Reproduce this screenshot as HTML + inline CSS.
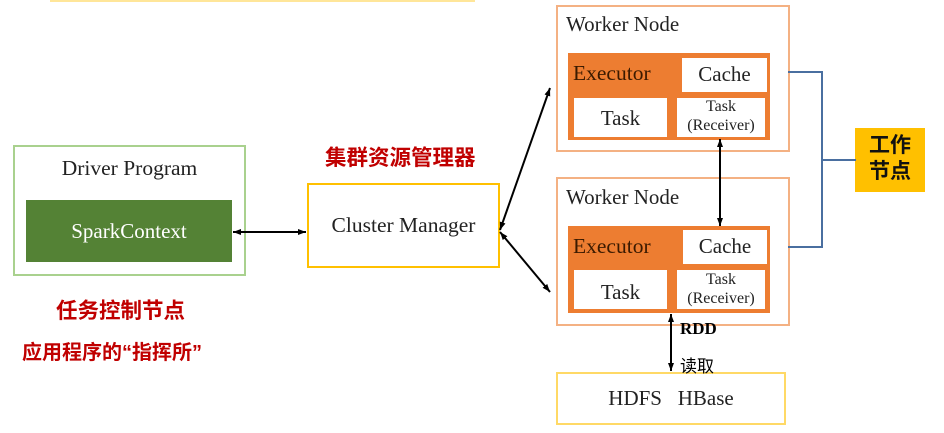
<!DOCTYPE html>
<html><head><meta charset="utf-8"><style>
body{margin:0;width:944px;height:433px;background:#fff;position:relative;overflow:hidden;font-family:"Liberation Serif","Noto Serif CJK SC",serif;}
.a{position:absolute;box-sizing:border-box;}
.t{position:absolute;white-space:nowrap;color:#222;}
.cn{font-family:"Liberation Sans","Noto Sans CJK SC",sans-serif;font-weight:bold;color:#c00000;}
</style></head><body>
<div class="a" style="left:50px;top:-2px;width:425px;height:4px;border-bottom:2px solid #ffe699"></div>

<div class="a" style="left:13px;top:145px;width:233px;height:131px;border:2px solid #a9d18e"></div>
<div class="t" style="left:13px;width:233px;text-align:center;top:156px;font-size:21.5px">Driver Program</div>
<div class="a" style="left:26px;top:200px;width:206px;height:62px;background:#548235"></div>
<div class="t" style="left:26px;width:206px;text-align:center;top:219px;font-size:21px;color:#fff">SparkContext</div>

<div class="a" style="left:307px;top:183px;width:193px;height:85px;border:2px solid #ffc000"></div>
<div class="t" style="left:307px;width:193px;text-align:center;top:213px;font-size:21.5px">Cluster Manager</div>
<div class="t cn" style="left:325px;top:141px;font-size:21.5px">集群资源管理器</div>
<div class="t cn" style="left:56px;top:294px;font-size:21.5px">任务控制节点</div>
<div class="t cn" style="left:22px;top:336px;font-size:20px">应用程序的“指挥所”</div>

<div class="a" style="left:556px;top:5px;width:234px;height:147px;border:2px solid #f4b183"></div>
<div class="t" style="left:566px;top:12px;font-size:21px">Worker Node</div>
<div class="a" style="left:568px;top:53px;width:202px;height:87px;background:#ed7d31"></div>
<div class="t" style="left:573px;top:61px;font-size:21.5px;color:#3a1a00">Executor</div>
<div class="a" style="left:682px;top:58px;width:85px;height:34px;background:#fff"></div>
<div class="t" style="left:682px;width:85px;text-align:center;top:62px;font-size:21px">Cache</div>
<div class="a" style="left:574px;top:98px;width:93px;height:39px;background:#fff"></div>
<div class="t" style="left:574px;width:93px;text-align:center;top:106px;font-size:21px">Task</div>
<div class="a" style="left:677px;top:98px;width:88px;height:39px;background:#fff"></div>
<div class="t" style="left:677px;width:88px;text-align:center;top:97px;font-size:16px;line-height:19px">Task<br>(Receiver)</div>

<div class="a" style="left:556px;top:177px;width:234px;height:149px;border:2px solid #f4b183"></div>
<div class="t" style="left:566px;top:185px;font-size:21px">Worker Node</div>
<div class="a" style="left:568px;top:226px;width:202px;height:87px;background:#ed7d31"></div>
<div class="t" style="left:573px;top:234px;font-size:21.5px;color:#3a1a00">Executor</div>
<div class="a" style="left:683px;top:230px;width:84px;height:34px;background:#fff"></div>
<div class="t" style="left:683px;width:84px;text-align:center;top:234px;font-size:21px">Cache</div>
<div class="a" style="left:574px;top:270px;width:93px;height:39px;background:#fff"></div>
<div class="t" style="left:574px;width:93px;text-align:center;top:280px;font-size:21px">Task</div>
<div class="a" style="left:677px;top:270px;width:88px;height:39px;background:#fff"></div>
<div class="t" style="left:677px;width:88px;text-align:center;top:270px;font-size:16px;line-height:19px">Task<br>(Receiver)</div>

<div class="a" style="left:855px;top:128px;width:70px;height:64px;background:#ffc000"></div>
<div class="t" style="left:855px;width:70px;text-align:center;top:133px;font-size:21px;line-height:26px;font-family:'Liberation Sans','Noto Sans CJK SC',sans-serif;font-weight:bold;color:#111">工作<br>节点</div>

<div class="a" style="left:556px;top:372px;width:230px;height:53px;border:2px solid #ffd966"></div>
<div class="t" style="left:556px;width:230px;text-align:center;top:386px;font-size:21px">HDFS&nbsp;&nbsp;&nbsp;HBase</div>
<div class="t" style="left:680px;top:319px;font-size:17px;font-weight:bold;color:#000">RDD</div>
<div class="t" style="left:680px;top:352px;font-size:17px;font-family:'Liberation Sans','Noto Sans CJK SC',sans-serif;color:#000">读取</div>

<svg class="a" style="left:0;top:0" width="944" height="433">
<defs><marker id="m" markerUnits="userSpaceOnUse" markerWidth="9" markerHeight="8" refX="8" refY="4" orient="auto-start-reverse"><path d="M0,1 L8,4 L0,7 Z" fill="#000"/></marker></defs>
<g stroke="#000" stroke-width="2" fill="none">
<line x1="233" y1="232" x2="306" y2="232" marker-start="url(#m)" marker-end="url(#m)"/>
<line x1="500" y1="230" x2="550" y2="88" marker-start="url(#m)" marker-end="url(#m)"/>
<line x1="500" y1="232" x2="550" y2="292" marker-start="url(#m)" marker-end="url(#m)"/>
<line x1="720" y1="139" x2="720" y2="226" marker-start="url(#m)" marker-end="url(#m)"/>
<line x1="671" y1="314" x2="671" y2="371" marker-start="url(#m)" marker-end="url(#m)"/>
</g>
<g stroke="#4a6fa0" stroke-width="2" fill="none">
<polyline points="788,72 822,72 822,247 788,247"/>
<line x1="822" y1="160" x2="856" y2="160"/>
</g>
</svg>
</body></html>
